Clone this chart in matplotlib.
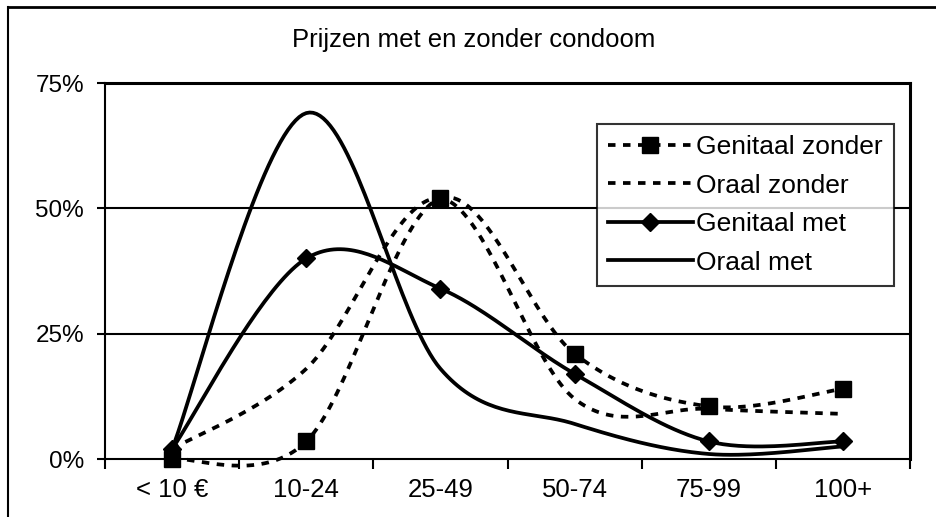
import matplotlib
matplotlib.use("Agg")
import matplotlib.pyplot as plt
from matplotlib.lines import Line2D
import numpy as np

plt.rcParams["font.family"] = ["Liberation Sans", "DejaVu Sans"]

categories = ["< 10 €", "10-24", "25-49", "50-74", "75-99", "100+"]
genitaal_zonder = [0.0, 3.5, 52.0, 21.0, 10.5, 14.0]
oraal_zonder = [2.0, 18.0, 52.0, 12.0, 10.0, 9.0]
genitaal_met = [2.0, 40.0, 34.0, 17.0, 3.5, 3.5]
oraal_met = [2.0, 69.0, 18.0, 7.0, 1.0, 2.5]
y_ticks = [0, 25, 50, 75]
y_labels = ["0%", "25%", "50%", "75%"]


def smooth(xs, ys, n=40):
    """Excel-like smoothed line (Catmull-Rom as cubic Bezier)."""
    pts = np.column_stack([xs, ys]).astype(float)
    ext = np.vstack([pts[0], pts, pts[-1]])
    out = []
    t = np.linspace(0, 1, n)[:, None]
    for i in range(len(pts) - 1):
        p0, p1, p2, p3 = ext[i], ext[i + 1], ext[i + 2], ext[i + 3]
        c1 = p1 + (p2 - p0) / 6
        c2 = p2 - (p3 - p1) / 6
        seg = ((1 - t) ** 3) * p1 + 3 * ((1 - t) ** 2) * t * c1 + 3 * (1 - t) * t ** 2 * c2 + t ** 3 * p2
        out.append(seg if i == 0 else seg[1:])
    seg = np.vstack(out)
    return seg[:, 0], seg[:, 1]


fig = plt.figure(figsize=(9.36, 5.17), dpi=100)
ax = fig.add_axes([105 / 936, 1 - 459 / 517, (910 - 105) / 936, (459 - 83) / 517])

x = np.arange(len(categories))
lw = 2.7
dash = (0, (2.0, 2.0))

sx, sy = smooth(x, genitaal_zonder)
ax.plot(sx, sy, color="black", lw=lw, ls=dash, clip_on=False)
ax.plot(x, genitaal_zonder, ls="none", marker="s", ms=11, color="black", clip_on=False)

sx, sy = smooth(x, oraal_zonder)
ax.plot(sx, sy, color="black", lw=lw, ls=dash)

sx, sy = smooth(x, genitaal_met)
ax.plot(sx, sy, color="black", lw=lw)
ax.plot(x, genitaal_met, ls="none", marker="D", ms=9, color="black")

sx, sy = smooth(x, oraal_met)
ax.plot(sx, sy, color="black", lw=lw)

ax.set_xlim(-0.5, len(categories) - 0.5)
ax.set_ylim(0, 75)
ax.set_yticks(y_ticks)
ax.set_yticklabels(y_labels)
ax.set_xticks(x)
ax.set_xticklabels(categories)
ax.set_xticks(np.arange(len(categories) + 1) - 0.5, minor=True)
ax.tick_params(axis="x", which="major", length=0, pad=14, labelsize=18.5)
ax.tick_params(axis="x", which="minor", length=7, width=1.5, direction="out")
ax.tick_params(axis="y", length=6, width=1.5, direction="out", labelsize=17.5, pad=9)
for y in y_ticks[1:3]:
    ax.axhline(y, color="black", lw=1.5, zorder=0)
for s in ax.spines.values():
    s.set_linewidth(1.5)
ax.spines["top"].set_linewidth(2.2)
ax.spines["right"].set_linewidth(2.2)

handles = [
    Line2D([], [], color="black", lw=lw, ls=dash, marker="s", ms=11),
    Line2D([], [], color="black", lw=lw, ls=dash),
    Line2D([], [], color="black", lw=lw, marker="D", ms=9),
    Line2D([], [], color="black", lw=lw),
]
leg = ax.legend(handles, ["Genitaal zonder", "Oraal zonder", "Genitaal met", "Oraal met"],
                loc="upper left", bbox_to_anchor=((597 - 105) / 805, (459 - 124) / 376),
                fontsize=19, frameon=True, fancybox=False, handlelength=3.2,
                handletextpad=0.15, borderpad=0.42, labelspacing=0.55, borderaxespad=0)
leg.get_frame().set_edgecolor("black")
leg.get_frame().set_linewidth(1.5)

fig.text(474 / 936, 1 - 40 / 517, "Prijzen met en zonder condoom", ha="center", va="center", fontsize=18.5)

# outer chart frame (top and left visible)
fig.add_artist(Line2D([8 / 936, 8 / 936], [0, 1 - 7 / 517], color="black", lw=1.5, transform=fig.transFigure))
fig.add_artist(Line2D([8 / 936, 1], [1 - 7 / 517, 1 - 7 / 517], color="black", lw=2.0, transform=fig.transFigure))

fig.savefig("out.png", dpi=100)
